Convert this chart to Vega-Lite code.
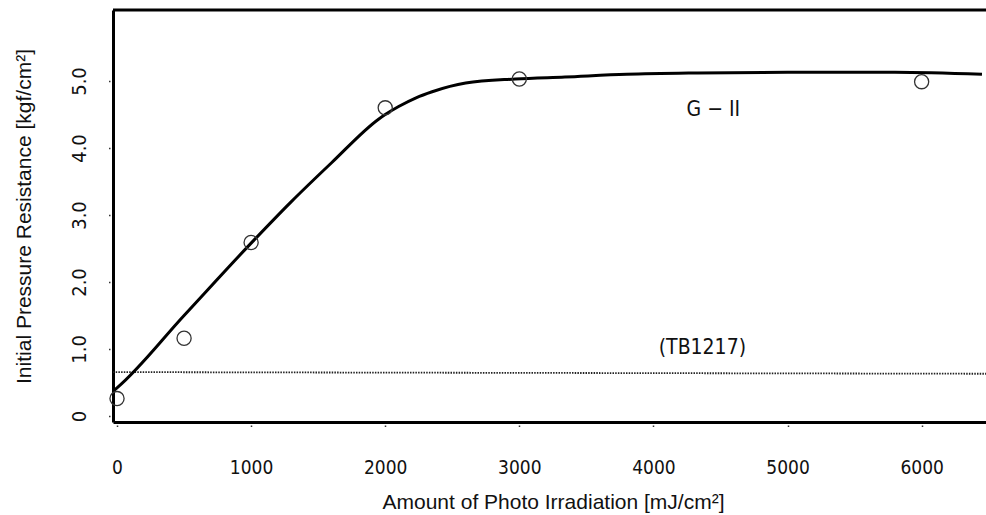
{
  "$schema": "https://vega.github.io/schema/vega-lite/v6.json",
  "width": 873,
  "height": 412,
  "autosize": "none",
  "padding": {"left": 113, "top": 10, "right": 0, "bottom": 93},
  "background": "white",
  "config": {"view": {"stroke": null}, "axis": {"grid": false}},
  "datasets": {
    "frame": [{"x": -30, "x2": 6480, "y": 6.06}],
    "curve": [
      {"x": -30, "y": 0.37}, {"x": 0, "y": 0.42}, {"x": 500, "y": 1.5}, {"x": 1000, "y": 2.58},
      {"x": 1300, "y": 3.2}, {"x": 1600, "y": 3.78}, {"x": 1950, "y": 4.43}, {"x": 2000, "y": 4.5},
      {"x": 2100, "y": 4.62}, {"x": 2230, "y": 4.75}, {"x": 2350, "y": 4.84}, {"x": 2600, "y": 4.97},
      {"x": 2970, "y": 5.03}, {"x": 3340, "y": 5.06}, {"x": 3800, "y": 5.1}, {"x": 4330, "y": 5.12},
      {"x": 5000, "y": 5.13}, {"x": 5800, "y": 5.13}, {"x": 6450, "y": 5.1}
    ],
    "points": [
      {"x": 0, "y": 0.26}, {"x": 500, "y": 1.16}, {"x": 1000, "y": 2.59},
      {"x": 2000, "y": 4.6}, {"x": 3000, "y": 5.03}, {"x": 6000, "y": 4.99}
    ],
    "baseline": [
      {"x": -30, "y": 0.655}, {"x": 6480, "y": 0.63}
    ],
    "labels": [
      {"x": 4447, "y": 4.56, "text": "G − II"},
      {"x": 4365, "y": 1.01, "text": "(TB1217)"}
    ]
  },
  "encoding": {
    "x": {
      "field": "x", "type": "quantitative",
      "scale": {"domain": [-30, 6480], "nice": false, "zero": false},
      "axis": {
        "values": [0, 1000, 2000, 3000, 4000, 5000, 6000],
        "format": "d",
        "grid": false,
        "domainColor": "black", "domainWidth": 3,
        "tickSize": 6, "tickColor": "#333", "tickWidth": 1.5, "tickDash": [1.5, 1.5],
        "labelFont": "Liberation Sans Narrow, Arial Narrow, DejaVu Sans Condensed, sans-serif",
        "labelFontSize": 19, "labelColor": "#111",
        "labelPadding": 45, "labelBaseline": "alphabetic", "labelFlush": false,
        "title": "Amount of Photo Irradiation [mJ/cm²]",
        "titleFont": "Liberation Sans, Arial, sans-serif", "titleFontSize": 21, "titleFontWeight": "normal",
        "titleColor": "#111", "titleX": 440, "titleY": 86, "titleBaseline": "alphabetic", "titleAlign": "center"
      }
    },
    "y": {
      "field": "y", "type": "quantitative",
      "scale": {"domain": [-0.09, 6.06], "nice": false, "zero": false},
      "axis": {
        "values": [0, 1, 2, 3, 4, 5],
        "labelExpr": "datum.value == 0 ? '0' : format(datum.value, '.1f')",
        "grid": false,
        "domainColor": "black", "domainWidth": 3,
        "tickSize": 6, "tickColor": "#333", "tickWidth": 1.5, "tickDash": [1.5, 1.5],
        "labelFont": "Liberation Sans Narrow, Arial Narrow, DejaVu Sans Condensed, sans-serif",
        "labelFontSize": 20, "labelColor": "#111",
        "labelAngle": -90, "labelAlign": "center", "labelBaseline": "alphabetic", "labelPadding": 22,
        "title": "Initial Pressure Resistance [kgf/cm²]",
        "titleFont": "Liberation Sans, Arial, sans-serif", "titleFontSize": 21, "titleFontWeight": "normal",
        "titleColor": "#111", "titleAngle": -90, "titleX": -83, "titleY": 206,
        "titleBaseline": "alphabetic", "titleAlign": "center"
      }
    }
  },
  "layer": [
    {
      "data": {"name": "baseline"},
      "mark": {"type": "line", "color": "#222", "strokeWidth": 1.8, "strokeDash": [1.5, 1.2]}
    },
    {
      "data": {"name": "curve"},
      "mark": {"type": "line", "color": "black", "strokeWidth": 3, "interpolate": "monotone"}
    },
    {
      "data": {"name": "points"},
      "mark": {"type": "point", "shape": "circle", "size": 200, "filled": false, "stroke": "#333", "strokeWidth": 1.3, "opacity": 1}
    },
    {
      "data": {"name": "labels"},
      "mark": {"type": "text", "font": "Liberation Sans Narrow, Arial Narrow, DejaVu Sans Condensed, sans-serif", "fontSize": 21, "color": "#111", "align": "center", "baseline": "middle"},
      "encoding": {"text": {"field": "text"}}
    },
    {
      "data": {"name": "frame"},
      "mark": {"type": "rule", "color": "black", "strokeWidth": 3},
      "encoding": {"x2": {"field": "x2"}}
    }
  ]
}
